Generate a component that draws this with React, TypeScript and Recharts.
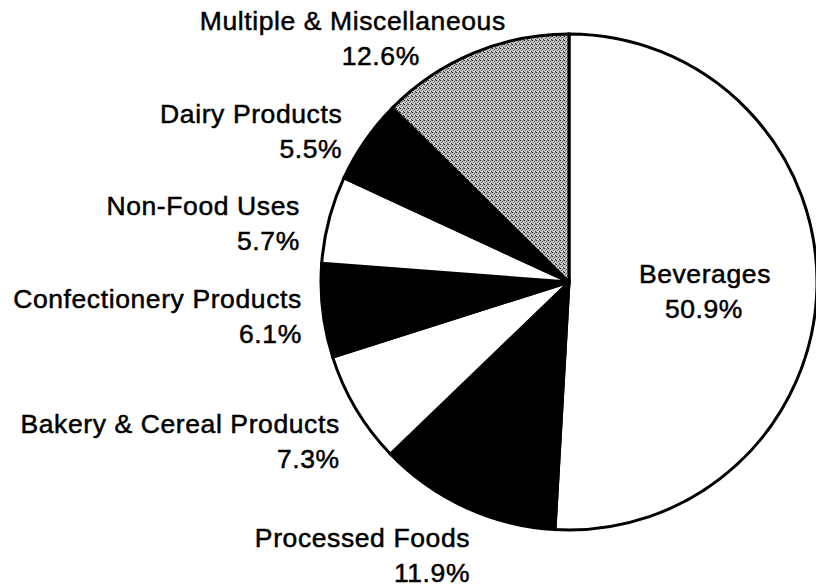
import { Cell, Pie, PieChart } from "recharts";

const CATEGORIES = [
  "Beverages",
  "Processed Foods",
  "Bakery & Cereal Products",
  "Confectionery Products",
  "Non-Food Uses",
  "Dairy Products",
  "Multiple & Miscellaneous",
];

const SHARES = [50.9, 11.9, 7.3, 6.1, 5.7, 5.5, 12.6];

const SLICE_FILLS = ["#ffffff", "#000000", "#ffffff", "#000000", "#ffffff", "#000000", "url(#stipple)"];

// where each label sits: distance from the centre, anchor, and small nudges
const LABEL_LAYOUT: Record<
  string,
  { r: number; anchor: "start" | "middle" | "end"; dx: number; dy: number; dx2?: number }
> = {
  Beverages: { r: 136, anchor: "middle", dx: 0, dy: -3, dx2: -1 },
  "Processed Foods": { r: 285, anchor: "end", dx: 20, dy: 6 },
  "Bakery & Cereal Products": { r: 275, anchor: "end", dx: 7, dy: 10 },
  "Confectionery Products": { r: 270, anchor: "end", dx: 1, dy: -5 },
  "Non-Food Uses": { r: 275, anchor: "end", dx: -3, dy: 2 },
  "Dairy Products": { r: 271, anchor: "end", dx: -4, dy: -5 },
  "Multiple & Miscellaneous": { r: 273, anchor: "middle", dx: -111, dy: 0, dx2: -83 },
};

const RAD = Math.PI / 180;
const LINE_GAP = 35;
const FONT = '"Liberation Sans", Arial, Helvetica, sans-serif';

const data = CATEGORIES.map((name, i) => ({ name, value: SHARES[i] }));

function renderLabel(props: any) {
  const { cx, cy, midAngle, name, value } = props;
  const layout = LABEL_LAYOUT[name];
  if (!layout) return null;
  const px = cx + layout.r * Math.cos(-midAngle * RAD);
  const py = cy + layout.r * Math.sin(-midAngle * RAD);
  const x = px + layout.dx;
  const y = py + layout.dy;
  const x2 = layout.dx2 !== undefined ? px + layout.dx2 : x;

  return (
    <text
      fill="#000"
      fontFamily={FONT}
      fontSize={26.5}
      letterSpacing={0.6}
      stroke="#000"
      strokeWidth={0.5}
      textAnchor={layout.anchor}
    >
      <tspan x={x} y={y}>
        {name}
      </tspan>
      <tspan x={x2} y={y + LINE_GAP}>
        {`${Number(value).toFixed(1)}%`}
      </tspan>
    </text>
  );
}

export default function App() {
  return (
    <div style={{ width: 816, height: 588, background: "#fff", position: "relative" }}>
      <style>{"body{margin:0;background:#fff}"}</style>
      <svg height={0} style={{ position: "absolute" }} width={0}>
        <defs>
          <pattern height={4} id="stipple" patternUnits="userSpaceOnUse" width={4}>
            <rect fill="#c4c4c4" height={4} width={4} />
            <rect fill="#1e1e1e" height={1} width={1} x={0} y={0} />
            <rect fill="#4a4a4a" height={1} width={1} x={2} y={1} />
            <rect fill="#6a6a6a" height={1} width={1} x={1} y={2} />
            <rect fill="#333333" height={1} width={1} x={3} y={3} />
            <rect fill="#e8e8e8" height={1} width={1} x={2} y={3} />
            <rect fill="#7a7a7a" height={1} width={1} x={3} y={0} />
          </pattern>
        </defs>
      </svg>
      <PieChart height={588} margin={{ top: 0, right: 0, bottom: 0, left: 0 }} width={816}>
        <Pie
          cx={569}
          cy={282}
          data={data}
          dataKey="value"
          endAngle={-270}
          isAnimationActive={false}
          label={renderLabel}
          labelLine={false}
          nameKey="name"
          outerRadius={248}
          startAngle={90}
          stroke="#000"
          strokeWidth={3}
        >
          {data.map((entry, i) => (
            <Cell fill={SLICE_FILLS[i]} key={entry.name} stroke="#000" strokeWidth={3} />
          ))}
        </Pie>
      </PieChart>
    </div>
  );
}
